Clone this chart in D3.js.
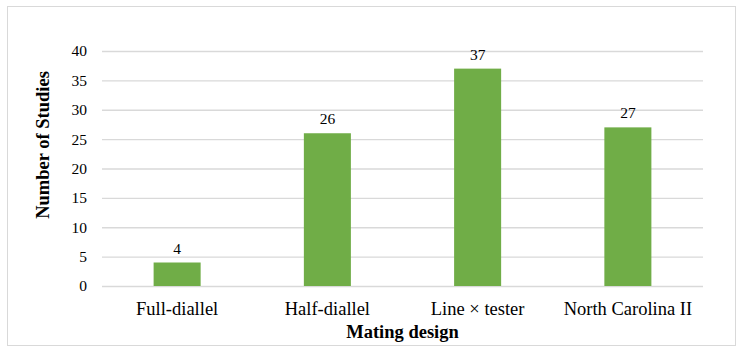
<!DOCTYPE html>
<html>
<head>
<meta charset="utf-8">
<script src="https://cdn.jsdelivr.net/npm/d3@7"></script>
<style>
  body { margin: 0; background: #fff; }
  text { font-family: 'Liberation Serif', 'Times New Roman', serif; fill: #000; }
</style>
</head>
<body>
<svg id="chart" width="745" height="351"></svg>
<script>
const designs = ['Full-diallel', 'Half-diallel', 'Line × tester', 'North Carolina II']
const studies = [4, 26, 37, 27]
const yTicks = [0, 5, 10, 15, 20, 25, 30, 35, 40]

const svg = d3.select('#chart')
const margin = { top: 51, right: 42, bottom: 65, left: 102 }
const W = 745, H = 351
const width = W - margin.left - margin.right
const height = H - margin.top - margin.bottom

// outer frame
svg.append('rect')
  .attr('x', 7.5).attr('y', 6.5)
  .attr('width', 728).attr('height', 339)
  .attr('fill', '#fff')
  .attr('stroke', '#d9d9d9')

const g = svg.append('g')
  .attr('transform', 'translate(' + [margin.left, margin.top].join(',') + ')')

const x = d3.scaleBand()
  .domain(designs)
  .range([0, width])
  .paddingInner(0.687)
  .paddingOuter(0.3435)

const y = d3.scaleLinear()
  .domain([0, 40])
  .range([height, 0])

// gridlines
g.append('g')
  .call(d3.axisLeft(y).tickValues(yTicks).tickSize(-width).tickFormat(''))
  .call(a => a.select('.domain').remove())
  .selectAll('line')
  .attr('stroke', '#d9d9d9')
  .attr('stroke-width', 1.3)

// y tick labels
g.append('g')
  .call(d3.axisLeft(y).tickValues(yTicks).tickSize(0).tickPadding(15))
  .call(a => a.select('.domain').remove())
  .selectAll('text')
  .style('font-size', '15.5px')
  .style('font-family', "'Liberation Serif', serif")

g.selectAll('rect.bar')
  .data(designs)
  .join('rect')
  .attr('class', 'bar')
  .attr('x', d => x(d))
  .attr('y', (d, i) => y(studies[i]))
  .attr('width', x.bandwidth())
  .attr('height', (d, i) => height - y(studies[i]))
  .attr('fill', '#70ad47')

// value labels
g.selectAll('text.val')
  .data(designs)
  .join('text')
  .attr('class', 'val')
  .attr('x', d => x(d) + x.bandwidth() / 2)
  .attr('y', (d, i) => y(studies[i]) - 9)
  .attr('text-anchor', 'middle')
  .style('font-size', '15.5px')
  .text((d, i) => studies[i])

// x category labels
g.append('g')
  .attr('transform', 'translate(0,' + height + ')')
  .call(d3.axisBottom(x).tickSize(0).tickPadding(16))
  .call(a => a.select('.domain').remove())
  .selectAll('text')
  .style('font-size', '18.5px')
  .style('font-family', "'Liberation Serif', serif")

// axis titles
svg.append('text')
  .attr('x', margin.left + width / 2)
  .attr('y', 338)
  .attr('text-anchor', 'middle')
  .style('font-size', '18.5px')
  .style('font-weight', 'bold')
  .text('Mating design')

svg.append('text')
  .attr('transform', 'translate(49,' + 145 + ') rotate(-90)')
  .attr('text-anchor', 'middle')
  .style('font-size', '18.5px')
  .style('font-weight', 'bold')
  .text('Number of Studies')
</script>
</body>
</html>
